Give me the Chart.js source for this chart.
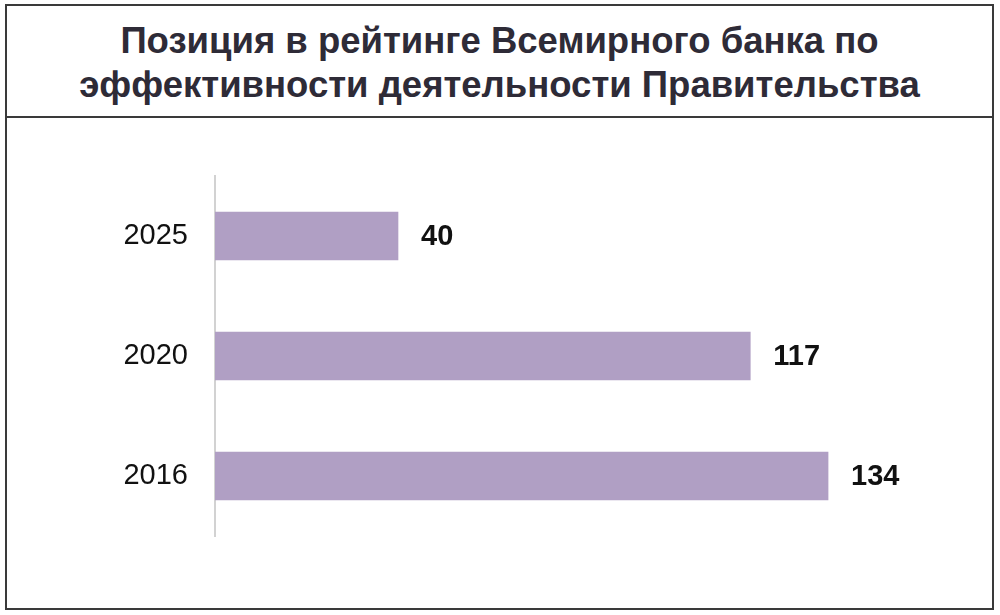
<!DOCTYPE html>
<html>
<head>
<meta charset="utf-8">
<script src="https://cdn.jsdelivr.net/npm/chart.js@4"></script>
<style>
    html, body { margin: 0; padding: 0; background: #fff; }
    body { width: 1000px; height: 615px; position: relative; overflow: hidden; font-family: "Liberation Sans", Arial, sans-serif; }
    .frame { position: absolute; left: 5px; top: 4px; width: 985px; height: 602px; border: 2px solid #3a3a3a; }
    .title-box { position: absolute; left: 0; top: 0; right: 0; height: 106px; padding-top: 4px; border-bottom: 2px solid #3a3a3a;
        display: flex; align-items: center; justify-content: center; text-align: center;
        font-weight: bold; font-size: 36.5px; line-height: 44px; color: #2e2b37; }
    #chartWrap { position: absolute; left: 0; top: 0; width: 1000px; height: 615px; }
</style>
</head>
<body>
<div class="frame">
    <div class="title-box">Позиция в рейтинге Всемирного банка по<br>эффективности деятельности Правительства</div>
</div>
<div id="chartWrap"><canvas id="rankChart"></canvas></div>
<script>
const years = ['2025', '2020', '2016'];
const rankValues = [40, 117, 134];
const axisMax = 160;

// подписи значений справа от столбцов
const valueLabels = {
    id: 'valueLabels',
    afterDatasetsDraw(chart) {
        const ctx = chart.ctx;
        const meta = chart.getDatasetMeta(0);
        ctx.save();
        ctx.font = 'bold 29px "Liberation Sans", Arial, sans-serif';
        ctx.fillStyle = '#111';
        ctx.textBaseline = 'middle';
        ctx.textAlign = 'left';
        meta.data.forEach((bar, i) => {
            ctx.fillText(String(rankValues[i]), bar.x + 23, bar.y + 1);
        });
        ctx.restore();
    }
};

const ctx = document.getElementById('rankChart').getContext('2d');
new Chart(ctx, {
    type: 'bar',
    data: {
        labels: years,
        datasets: [{
            data: rankValues,
            backgroundColor: '#b09fc4',
            borderWidth: 0,
            barThickness: 48
        }]
    },
    options: {
        indexAxis: 'y',
        responsive: true,
        maintainAspectRatio: false,
        animation: false,
        layout: { padding: { top: 176, bottom: 79, left: 0, right: 53 } },
        plugins: {
            legend: { display: false },
            tooltip: { enabled: false }
        },
        scales: {
            x: {
                display: false,
                min: 0,
                max: axisMax
            },
            y: {
                grid: { display: false, drawTicks: false },
                border: { display: true, color: '#d2d2d2', width: 2 },
                ticks: {
                    color: '#111',
                    padding: 27,
                    font: { size: 29, family: '"Liberation Sans", Arial, sans-serif' }
                },
                afterFit(scale) { scale.width = 215; }
            }
        }
    },
    plugins: [valueLabels]
});
</script>
</body>
</html>
